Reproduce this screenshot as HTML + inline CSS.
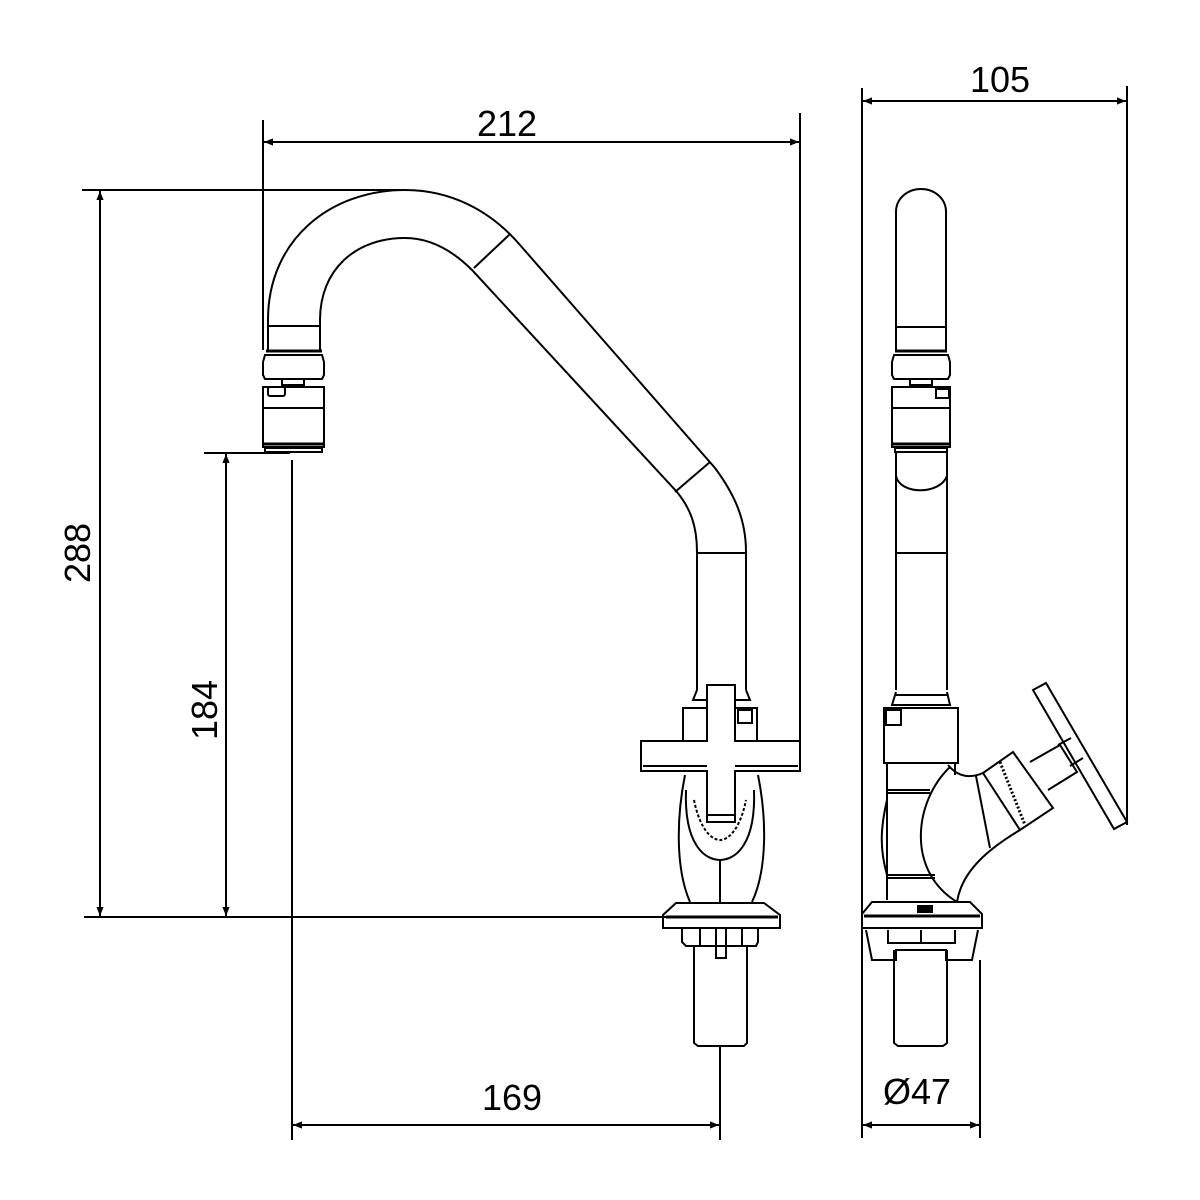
<!DOCTYPE html>
<html><head><meta charset="utf-8"><style>html,body{margin:0;padding:0;background:#fff}svg{display:block}</style></head>
<body>
<svg width="1200" height="1200" viewBox="0 0 1200 1200" xmlns="http://www.w3.org/2000/svg">
<defs>
<marker id="a" viewBox="0 0 10 10" refX="10" refY="5" markerWidth="9" markerHeight="9" orient="auto-start-reverse" markerUnits="userSpaceOnUse"><path d="M0,1 L10,5 L0,9 Z" fill="#000"/></marker>
</defs>
<g fill="none" stroke="#000" stroke-width="2">
<!-- dimension lines -->
<line x1="263" y1="120" x2="263" y2="350"/>
<line x1="800" y1="113" x2="800" y2="742"/>
<line x1="264" y1="142" x2="799" y2="142" marker-start="url(#a)" marker-end="url(#a)"/>
<line x1="82" y1="190" x2="405" y2="190"/>
<line x1="84" y1="917" x2="668" y2="917"/>
<line x1="100" y1="191" x2="100" y2="916" marker-start="url(#a)" marker-end="url(#a)"/>
<line x1="204" y1="453" x2="290" y2="453"/>
<line x1="226" y1="454" x2="226" y2="916" marker-start="url(#a)" marker-end="url(#a)"/>
<line x1="292" y1="460" x2="292" y2="1140"/>
<line x1="720" y1="1046" x2="720" y2="1140"/>
<line x1="293" y1="1125" x2="719" y2="1125" marker-start="url(#a)" marker-end="url(#a)"/>
<line x1="862" y1="88" x2="862" y2="1138"/>
<line x1="1127" y1="86" x2="1127" y2="825"/>
<line x1="863" y1="101" x2="1126" y2="101" marker-start="url(#a)" marker-end="url(#a)"/>
<line x1="980" y1="960" x2="980" y2="1138"/>
<line x1="863" y1="1125" x2="979" y2="1125" marker-start="url(#a)" marker-end="url(#a)"/>

<!-- front spout -->
<path d="M268,350 L268,320 C268,240 330,190 405,190 C450,190 490,210 520,245 L715,468 C735,495 746,520 746,552 L746,690"/>
<path d="M320,350 L320,320 C320,270 355,238 405,238 C430,238 452,250 472,270 L677,492 C690,508 697,525 697,552 L697,690"/>
<line x1="474" y1="268" x2="510" y2="234"/>
<line x1="675" y1="492" x2="710" y2="462"/>
<line x1="697" y1="553" x2="746" y2="553"/>
<line x1="268" y1="326" x2="320" y2="326"/>
<!-- aerator front -->
<path d="M265,355 L322,355 L324,362 L324,375 L322,379 L265,379 L263,375 L263,362 Z"/>
<line x1="266" y1="351" x2="322" y2="351" stroke-width="3"/>
<rect x="282" y="379" width="22" height="6"/>
<path d="M263,387 L324,387 L324,447 L263,447 Z"/>
<rect x="268" y="387" width="17" height="9" rx="2"/>
<line x1="263" y1="408" x2="324" y2="408"/>
<line x1="263" y1="444" x2="324" y2="444" stroke-width="3"/>
<path d="M265,448 L322,448 L322,452 L265,452 Z"/>

<!-- front valve -->
<path d="M697,690 L693,700 L750,700 L746,690"/>
<rect x="683" y="708" width="74" height="33"/>
<rect x="738" y="710" width="14" height="13"/>
<path d="M685,775 C676,820 676,870 690,902 M758,775 C767,820 767,870 752,902"/>
<path d="M686,790 C684,845 705,860 720,860 C735,860 756,845 754,790"/>
<path d="M694,800 C700,830 712,840 720,840 C728,840 740,830 746,800" stroke-dasharray="3 2"/>
<line x1="720" y1="860" x2="720" y2="902"/>
<path d="M707,685 L735,685 L735,741 L800,741 L800,771 L735,771 L735,822 L707,822 L707,771 L641,771 L641,741 L707,741 Z" fill="#fff"/>
<line x1="643" y1="766" x2="707" y2="766"/><line x1="735" y1="766" x2="798" y2="766"/>
<line x1="707" y1="815" x2="735" y2="815"/>
<path d="M676,903 L764,903 L780,915 L780,928 L663,928 L663,915 Z"/>
<line x1="666" y1="917" x2="778" y2="917" stroke-width="3"/>
<path d="M682,928 L682,942 L686,946 L756,946 L758,942 L758,928"/>
<line x1="700" y1="928" x2="700" y2="946"/><line x1="742" y1="928" x2="742" y2="946"/>
<path d="M716,928 L716,958 L726,958 L726,928"/>
<path d="M694,946 L694,1043 L698,1046 L744,1046 L747,1043 L747,946"/>

<!-- side spout -->
<path d="M896,350 L896,212 C896,198 908,189 921,189 C934,189 946,198 946,212 L946,350"/>
<line x1="896" y1="327" x2="946" y2="327"/>
<path d="M894,355 L948,355 L950,362 L950,375 L948,379 L894,379 L892,375 L892,362 Z"/>
<line x1="895" y1="351" x2="947" y2="351" stroke-width="3"/>
<rect x="910" y="379" width="22" height="6"/>
<path d="M892,387 L950,387 L950,447 L892,447 Z"/>
<rect x="936" y="389" width="13" height="9"/>
<line x1="892" y1="408" x2="950" y2="408"/>
<line x1="892" y1="444" x2="950" y2="444" stroke-width="3"/>
<path d="M895,448 L947,448 L947,452 L895,452 Z"/>
<path d="M896,452 L896,690 M947,452 L947,690"/>
<path d="M896,476 C900,495 940,495 947,476"/>
<line x1="896" y1="553" x2="947" y2="553"/>
<line x1="896" y1="695" x2="947" y2="695"/>
<path d="M896,692 L892,705 L950,705 L947,692"/>
<rect x="884" y="708" width="74" height="55"/>
<rect x="886" y="710" width="15" height="15"/>
<!-- side body -->
<path d="M887,763 L887,900 M955,763 L955,775"/>
<line x1="887" y1="790" x2="930" y2="790"/><line x1="887" y1="793" x2="930" y2="793"/>
<line x1="887" y1="875" x2="935" y2="875"/><line x1="887" y1="878" x2="935" y2="878"/>
<path d="M887,800 C880,830 880,850 887,875"/>
<path d="M950,767 C915,800 905,870 957,902"/>
<path d="M957,902 C962,870 990,848 1020,830"/>
<path d="M948,765 Q962,782 983,773"/>
<path d="M983,773 L1013,752 L1053,808 L1020,830 Z"/>
<line x1="976" y1="776" x2="990" y2="848"/>
<line x1="1000" y1="762" x2="1025" y2="825" stroke-width="3" stroke-dasharray="2 2"/>
<path d="M1030,762 L1060,745 L1077,772 L1048,790"/>
<path d="M1033,690 L1046,683 L1127,822 L1114,829 Z"/>
<line x1="1058" y1="745" x2="1071" y2="738"/><line x1="1070" y1="766" x2="1083" y2="758"/>
<!-- side base -->
<path d="M872,902 L970,902 L982,914 L982,928 L862,928 L862,914 Z"/>
<line x1="864" y1="916" x2="980" y2="916" stroke-width="3"/>
<rect x="918" y="906" width="14" height="6" fill="#000"/>
<path d="M866,930 L872,960 L896,960 L896,950 L946,950 L946,960 L972,960 L978,930"/>
<path d="M888,930 L888,943 L955,943 L955,930"/>
<line x1="921" y1="930" x2="921" y2="943"/>
<path d="M894,950 L894,1043 L898,1046 L943,1046 L947,1043 L947,950"/>
</g>
<g font-family="Liberation Sans, sans-serif" font-size="36" fill="#000" text-anchor="middle">
<text x="507" y="136">212</text>
<text x="1000" y="92">105</text>
<text x="512" y="1110">169</text>
<text x="917" y="1104">Ø47</text>
<text transform="translate(90,553) rotate(-90)">288</text>
<text transform="translate(217,710) rotate(-90)">184</text>
</g>
</svg>
</body></html>
